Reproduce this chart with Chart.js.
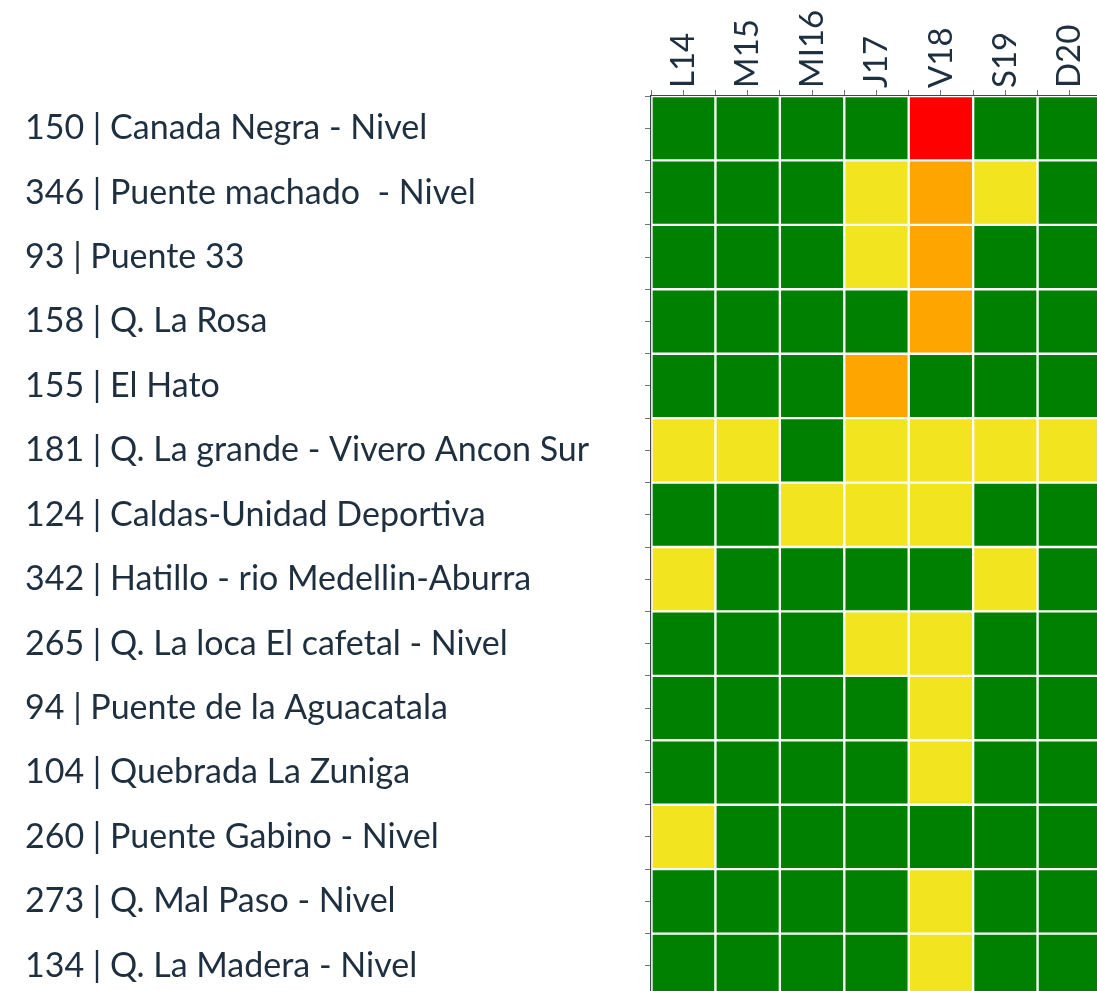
<!DOCTYPE html>
<html lang="es">
<head>
  <meta charset="UTF-8">
  <title>Estado de estaciones</title>
  <script src="https://cdn.jsdelivr.net/npm/chart.js"></script>
  <style>
    html, body {
      margin: 0;
      padding: 0;
      background: #fff;
      overflow: hidden;
    }
    .chart-container {
      width: 1102px;
      height: 998px;
    }
  </style>
</head>
<body>
  <div class="chart-container">
    <canvas id="heatmap"></canvas>
  </div>

  <script>
    const days = ['L14', 'M15', 'MI16', 'J17', 'V18', 'S19', 'D20'];

    const stations = [
      '150 | Canada Negra - Nivel',
      '346 | Puente machado  - Nivel',
      '93 | Puente 33',
      '158 | Q. La Rosa',
      '155 | El Hato',
      '181 | Q. La grande - Vivero Ancon Sur',
      '124 | Caldas-Unidad Deportiva',
      '342 | Hatillo - rio Medellin-Aburra',
      '265 | Q. La loca El cafetal - Nivel',
      '94 | Puente de la Aguacatala',
      '104 | Quebrada La Zuniga',
      '260 | Puente Gabino - Nivel',
      '273 | Q. Mal Paso - Nivel',
      '134 | Q. La Madera - Nivel'
    ];

    // 0 = normal, 1 = amarillo, 2 = naranja, 3 = rojo
    const levels = [
      [0, 0, 0, 0, 3, 0, 0],
      [0, 0, 0, 1, 2, 1, 0],
      [0, 0, 0, 1, 2, 0, 0],
      [0, 0, 0, 0, 2, 0, 0],
      [0, 0, 0, 2, 0, 0, 0],
      [1, 1, 0, 1, 1, 1, 1],
      [0, 0, 1, 1, 1, 0, 0],
      [1, 0, 0, 0, 0, 1, 0],
      [0, 0, 0, 1, 1, 0, 0],
      [0, 0, 0, 0, 1, 0, 0],
      [0, 0, 0, 0, 1, 0, 0],
      [1, 0, 0, 0, 0, 0, 0],
      [0, 0, 0, 0, 1, 0, 0],
      [0, 0, 0, 0, 1, 0, 0]
    ];

    const levelColors = ['#008000', '#f2e51f', '#ffa500', '#ff0000'];

    const textColor = '#1e2f40';
    const dayFont = { family: 'Lato', size: 33, lineHeight: 1.2 };
    const stationFont = { family: 'Lato', size: 34, lineHeight: 1.2 };

    // half-step ticks: labels on cell centres, plain marks on cell edges
    function halfSteps(count) {
      const out = [];
      for (let v = 0; v <= count * 2; v++) out.push({ value: v / 2 });
      return out;
    }

    function noEdgePadding(scale) {
      scale.paddingTop = 0;
      scale.paddingBottom = 0;
      scale.paddingLeft = 0;
      scale.paddingRight = 0;
    }

    const datasets = days.map((day, j) => ({
      label: day,
      data: stations.map((s, i) => ({ x: [j, j + 1], y: i + 0.5 })),
      backgroundColor: stations.map((s, i) => levelColors[levels[i][j]]),
      borderColor: '#ffffff',
      borderWidth: 1.5,
      borderSkipped: false,
      barThickness: 'flex',
      categoryPercentage: 1,
      barPercentage: 1
    }));

    new Chart(document.getElementById('heatmap'), {
      type: 'bar',
      data: { datasets: datasets },
      options: {
        indexAxis: 'y',
        responsive: true,
        maintainAspectRatio: false,
        animation: false,
        layout: { padding: { left: 25, top: 0, right: 0, bottom: 0 } },
        plugins: {
          legend: { display: false },
          tooltip: { enabled: false }
        },
        scales: {
          x: {
            type: 'linear',
            position: 'top',
            offset: false,
            min: 0,
            max: days.length,
            afterBuildTicks: (scale) => { scale.ticks = halfSteps(days.length); },
            afterFit: (scale) => { scale.height = 96; noEdgePadding(scale); },
            border: { display: true, color: '#3d4650', width: 1.5 },
            grid: { offset: false, drawOnChartArea: false, drawTicks: true, tickLength: 6, color: '#6b7480' },
            ticks: {
              autoSkip: false,
              minRotation: 90,
              maxRotation: 90,
              padding: 2,
              // rotated labels are drawn one line-height left of the tick
              labelOffset: dayFont.size * dayFont.lineHeight,
              color: textColor,
              font: dayFont,
              callback: (v) => (v % 1 === 0.5 ? days[v - 0.5] : '')
            }
          },
          y: {
            type: 'linear',
            reverse: true,
            stacked: true,
            offset: false,
            min: 0,
            max: stations.length,
            afterBuildTicks: (scale) => { scale.ticks = halfSteps(stations.length); },
            afterFit: (scale) => { scale.width = 626; noEdgePadding(scale); },
            border: { display: true, color: '#3d4650', width: 1.5 },
            grid: { offset: false, drawOnChartArea: false, drawTicks: true, tickLength: 6, color: '#6b7480' },
            ticks: {
              autoSkip: false,
              crossAlign: 'far',
              color: textColor,
              font: stationFont,
              callback: (v) => (v % 1 === 0.5 ? stations[v - 0.5] : '')
            }
          }
        }
      }
    });
  </script>
</body>
</html>
